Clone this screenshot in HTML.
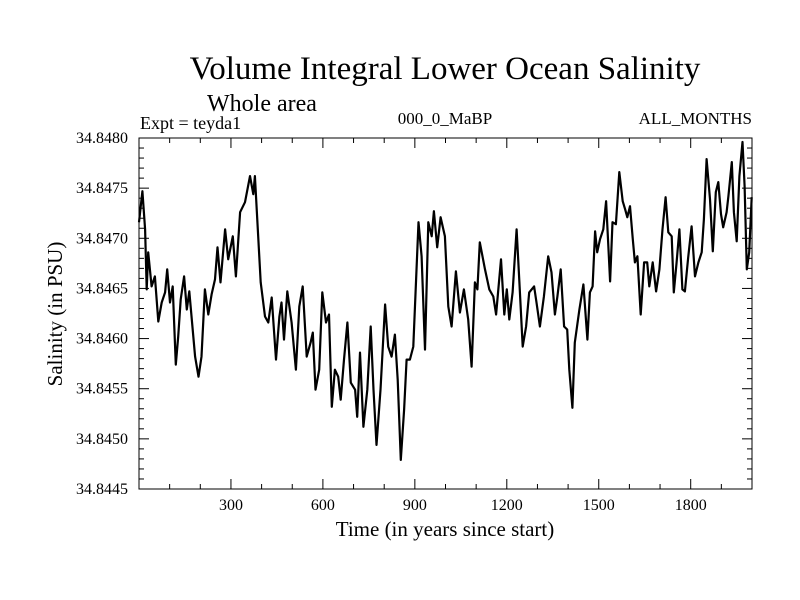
<!DOCTYPE html>
<html><head><meta charset="utf-8"><style>
body{margin:0;background:#fff;}
svg{display:block;font-family:"Liberation Serif",serif;}
</style></head><body>
<svg id="chart" width="800" height="600">
<text x="445" y="79" font-size="33" text-anchor="middle">Volume Integral Lower Ocean Salinity</text>
<text x="262" y="111" font-size="24" text-anchor="middle">Whole area</text>
<text x="140" y="129" font-size="18">Expt = teyda1</text>
<text x="445" y="124" font-size="17" text-anchor="middle">000_0_MaBP</text>
<text x="752" y="124" font-size="17" text-anchor="end">ALL_MONTHS</text>
<text x="445" y="536" font-size="21" text-anchor="middle">Time (in years since start)</text>
<text transform="translate(62,314) rotate(-90)" font-size="21" text-anchor="middle">Salinity (in PSU)</text>
<g id="ticks"></g>
<path id="line" fill="none" stroke="#000" stroke-width="2.2" stroke-linejoin="round"/>
<rect x="139" y="138" width="613" height="351" fill="none" stroke="#000" stroke-width="1"/>
</svg>
<script>
const years=[0,11,20,25,30,41,52,63,74,85,92,101,110,120,128,136,147,156,164,183,194,204,215,226,237,248,256,266,281,291,306,316,330,346,362,373,378,397,411,422,433,447,458,465,473,484,498,512,523,534,547,560,567,576,588,598,610,620,629,639,650,658,669,680,691,705,712,721,732,745,756,765,775,788,803,813,824,835,844,854,865,873,884,895,904,912,922,933,944,955,962,973,984,998,1009,1020,1034,1047,1060,1074,1085,1096,1104,1112,1129,1143,1156,1165,1181,1192,1200,1208,1219,1232,1241,1252,1263,1273,1289,1297,1308,1321,1335,1346,1357,1365,1376,1387,1397,1404,1414,1422,1437,1450,1463,1471,1480,1488,1495,1504,1515,1524,1529,1537,1545,1556,1567,1578,1586,1593,1602,1611,1618,1626,1637,1648,1658,1665,1676,1687,1698,1708,1718,1727,1738,1745,1754,1763,1773,1781,1792,1803,1814,1825,1836,1843,1852,1863,1872,1882,1890,1899,1906,1917,1923,1934,1941,1950,1959,1969,1976,1983,1991,1999];
const salinity=[34.84716,34.84747,34.84709,34.84649,34.84686,34.84652,34.84662,34.84617,34.84636,34.84646,34.84669,34.84636,34.84652,34.84574,34.84602,34.84639,34.84662,34.84629,34.84647,34.84582,34.84562,34.84582,34.84649,34.84624,34.84644,34.84659,34.84691,34.84656,34.84709,34.84679,34.84702,34.84662,34.84726,34.84736,34.84762,34.84744,34.84762,34.84656,34.84622,34.84616,34.84641,34.84579,34.84622,34.84636,34.84599,34.84647,34.84616,34.84569,34.84632,34.84652,34.84582,34.84596,34.84606,34.84549,34.84569,34.84646,34.84616,34.84624,34.84532,34.84569,34.84562,34.84539,34.84579,34.84616,34.84556,34.84549,34.84522,34.84586,34.84512,34.84549,34.84612,34.84549,34.84494,34.84549,34.84634,34.84592,34.84582,34.84604,34.84559,34.84479,34.84529,34.84579,34.84579,34.84592,34.84659,34.84716,34.84682,34.84589,34.84716,34.84702,34.84727,34.84691,34.84721,34.84702,34.84632,34.84612,34.84667,34.84626,34.84649,34.84619,34.84572,34.84656,34.84649,34.84696,34.84669,34.84649,34.84642,34.84624,34.84679,34.84624,34.84649,34.84619,34.84646,34.84709,34.84656,34.84592,34.84612,34.84646,34.84652,34.84636,34.84612,34.84642,34.84682,34.84666,34.84624,34.84642,34.84669,34.84612,34.84609,34.84569,34.84531,34.84596,34.84629,34.84654,34.84599,34.84646,34.84652,34.84707,34.84686,34.84699,34.84709,34.84737,34.84707,34.84657,34.84716,34.84714,34.84766,34.84737,34.84729,34.84721,34.84732,34.84699,34.84676,34.84682,34.84624,34.84676,34.84676,34.84652,34.84676,34.84647,34.84669,34.84709,34.84741,34.84706,34.84702,34.84646,34.84676,34.84709,34.84649,34.84647,34.84681,34.84712,34.84662,34.84676,34.84686,34.84719,34.84779,34.84739,34.84687,34.84746,34.84756,34.84724,34.84711,34.84726,34.84742,34.84776,34.84726,34.84697,34.84762,34.84796,34.84752,34.84669,34.84686,34.84741];
const xTickLabels=["300","600","900","1200","1500","1800"];
const yTickLabels=["34.8445","34.8450","34.8455","34.8460","34.8465","34.8470","34.8475","34.8480"];
const X0=139,X1=752,Y0=489,Y1=138,XMIN=0,XMAX=2000,YMIN=34.8445,YMAX=34.8480;
function sx(v){return X0+(v-XMIN)/(XMAX-XMIN)*(X1-X0);}
function sy(v){return Y0-(v-YMIN)/(YMAX-YMIN)*(Y0-Y1);}
const NS='http://www.w3.org/2000/svg';
const g=document.getElementById('ticks');
function ln(x1,y1,x2,y2,name){const l=document.createElementNS(NS,'line');l.setAttribute('x1',x1);l.setAttribute('y1',y1);l.setAttribute('x2',x2);l.setAttribute('y2',y2);l.setAttribute('stroke','#000');l.setAttribute('stroke-width','1');


g.appendChild(l);}
function tx(x,y,s,anchor,name){const t=document.createElementNS(NS,'text');t.setAttribute('x',x);t.setAttribute('y',y);t.setAttribute('font-size','16');t.setAttribute('text-anchor',anchor);t.textContent=s;


g.appendChild(t);}
for(let yr=100;yr<2000;yr+=100){const x=sx(yr);const L=(yr%300===0)?10:5;ln(x,Y0,x,Y0-L,'x-tick');ln(x,Y1,x,Y1+L,'x-tick-top');}
xTickLabels.forEach(s=>tx(sx(+s),510,s,'middle','x-tick-label'));
for(let i=0;i<=35;i++){const v=YMIN+i*0.0001;const y=sy(v);const L=(i%5===0)?10:5;ln(X0,y,X0+L,y,'y-tick');ln(X1,y,X1-L,y,'y-tick-right');}
yTickLabels.forEach(s=>tx(128,sy(+s)+5,s,'end','y-tick-label'));
let d='';
years.forEach((yr,i)=>{d+=(i?'L':'M')+sx(yr).toFixed(1)+','+sy(salinity[i]).toFixed(1);});
document.getElementById('line').setAttribute('d',d);
</script>
</body></html>
